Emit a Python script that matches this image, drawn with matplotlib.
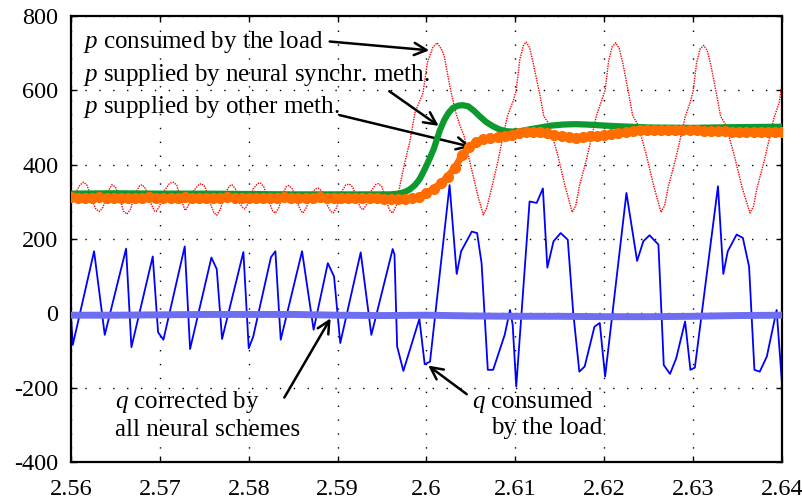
import numpy as np
import matplotlib.pyplot as plt

plt.rcParams['font.family'] = ['Liberation Serif', 'DejaVu Serif']
plt.rcParams['mathtext.fontset'] = 'custom'
plt.rcParams['mathtext.it'] = 'Liberation Serif:italic'
plt.rcParams['mathtext.rm'] = 'Liberation Serif'
plt.rcParams['axes.unicode_minus'] = False

# p consumed by the load (red dotted)
p_load_t = [2.5600, 2.5604, 2.5610, 2.5614, 2.5618, 2.5623, 2.5628, 2.5632, 2.5636, 2.5641,
            2.5646, 2.5650, 2.5655, 2.5659, 2.5663, 2.5667, 2.5672, 2.5677, 2.5680, 2.5684,
            2.5689, 2.5694, 2.5696, 2.5700, 2.5705, 2.5711, 2.5715, 2.5719, 2.5724, 2.5728,
            2.5729, 2.5733, 2.5738, 2.5744, 2.5747, 2.5751, 2.5756, 2.5761, 2.5764, 2.5768,
            2.5773, 2.5778, 2.5781, 2.5785, 2.5790, 2.5794, 2.5796, 2.5800, 2.5805, 2.5810,
            2.5813, 2.5817, 2.5822, 2.5827, 2.5830, 2.5834, 2.5839, 2.5842, 2.5845, 2.5849,
            2.5854, 2.5859, 2.5861, 2.5865, 2.5870, 2.5875, 2.5878, 2.5882, 2.5887, 2.5892,
            2.5895, 2.5899, 2.5904, 2.5909, 2.5913, 2.5917, 2.5922, 2.5926, 2.5929, 2.5933,
            2.5938, 2.5943, 2.5946, 2.5950, 2.5955, 2.5959, 2.5962, 2.5966, 2.5970, 2.5975,
            2.5981, 2.5987, 2.5993, 2.5996, 2.6001, 2.6007, 2.6012, 2.6017, 2.6020, 2.6027,
            2.6033, 2.6038, 2.6042, 2.6049, 2.6058, 2.6064, 2.6068, 2.6072, 2.6080, 2.6087,
            2.6091, 2.6098, 2.6101, 2.6105, 2.6109, 2.6112, 2.6116, 2.6120, 2.6128, 2.6132,
            2.6137, 2.6140, 2.6147, 2.6156, 2.6164, 2.6168, 2.6172, 2.6180, 2.6187, 2.6191,
            2.6197, 2.6201, 2.6205, 2.6209, 2.6213, 2.6217, 2.6221, 2.6228, 2.6232, 2.6237,
            2.6240, 2.6247, 2.6256, 2.6264, 2.6268, 2.6272, 2.6280, 2.6287, 2.6291, 2.6297,
            2.6300, 2.6304, 2.6308, 2.6312, 2.6316, 2.6320, 2.6327, 2.6331, 2.6336, 2.6339,
            2.6346, 2.6355, 2.6364, 2.6368, 2.6372, 2.6380, 2.6387, 2.6391, 2.6397, 2.6400]
p_load_v = [300, 320, 345, 353, 345, 310, 280, 274, 285, 325,
            346, 340, 310, 275, 267, 280, 320, 343, 346, 335,
            300, 275, 274, 290, 330, 350, 353, 345, 305, 280,
            277, 295, 330, 347, 349, 340, 300, 270, 264, 280,
            320, 342, 346, 335, 295, 282, 281, 300, 335, 349,
            351, 340, 305, 275, 270, 285, 325, 340, 344, 335,
            300, 275, 270, 285, 320, 335, 337, 330, 298, 275,
            270, 285, 325, 345, 348, 340, 305, 283, 279, 295,
            330, 347, 349, 340, 300, 275, 270, 290, 342, 400,
            459, 540, 575, 592, 674, 715, 728, 710, 692, 602,
            540, 503, 480, 405, 315, 265, 285, 324, 405, 486,
            530, 575, 600, 683, 720, 730, 715, 674, 584, 530,
            513, 490, 432, 342, 272, 290, 342, 414, 486, 530,
            572, 600, 680, 718, 728, 712, 672, 585, 532, 512,
            490, 430, 340, 272, 290, 340, 412, 484, 528, 570,
            598, 675, 712, 721, 706, 668, 582, 530, 510, 488,
            428, 340, 270, 288, 338, 410, 482, 526, 568, 616]

# p supplied by neural synchr. method (green)
p_neural_t = [2.560, 2.565, 2.570, 2.575, 2.580, 2.585, 2.590, 2.5959, 2.5968, 2.5975,
              2.5981, 2.5987, 2.5992, 2.5996, 2.6002, 2.6008, 2.6012, 2.6015, 2.6020, 2.6025,
              2.6030, 2.6036, 2.6041, 2.6047, 2.6053, 2.6060, 2.6067, 2.6075, 2.6082, 2.6090,
              2.6097, 2.6105, 2.6116, 2.6128, 2.6140, 2.6154, 2.6167, 2.6180, 2.6195, 2.6210,
              2.6230, 2.6250, 2.6300, 2.6350, 2.6400]
p_neural_v = [322, 323, 322, 322, 321, 320, 320, 320, 322, 326,
              333, 345, 360, 378, 408, 441, 470, 492, 520, 540,
              553, 559, 560, 557, 546, 530, 515, 503, 495, 490,
              489, 490, 495, 500, 505, 508, 509, 508, 506, 504,
              502, 500, 499, 501, 502]

# p supplied by other methods (orange, one sample per 0.8 ms)
p_other_t = np.round(np.linspace(2.560, 2.640, 101), 4)
p_other_v = [312, 310, 311, 309, 312, 310, 311, 310, 309, 311,
             310, 312, 310, 309, 311, 310, 312, 311, 310, 309,
             311, 310, 312, 310, 309, 311, 310, 309, 311, 310,
             312, 310, 309, 311, 310, 312, 310, 309, 311, 310,
             309, 311, 310, 309, 308, 307, 307, 308, 309, 314,
             324, 335, 350, 368, 392, 425, 448, 461, 468, 472,
             474, 476, 480, 484, 487, 489, 488, 485, 481, 477,
             474, 473, 474, 476, 478, 480, 483, 486, 488, 490,
             492, 493, 494, 494, 494, 493, 493, 492, 492, 491,
             491, 490, 490, 489, 489, 488, 488, 487, 487, 487,
             487]

# q consumed by the load (blue)
q_load_t = [2.5600, 2.5602, 2.5626, 2.5638, 2.5662, 2.5668, 2.5692, 2.5698, 2.5704, 2.5728,
            2.5734, 2.5758, 2.5764, 2.5770, 2.5794, 2.5800, 2.5805, 2.5825, 2.5830, 2.5836,
            2.5860, 2.5873, 2.5889, 2.5896, 2.5903, 2.5926, 2.5938, 2.5962, 2.5964, 2.5967,
            2.5974, 2.5992, 2.5998, 2.6004, 2.6026, 2.6034, 2.6039, 2.6051, 2.6057, 2.6062,
            2.6069, 2.6075, 2.6088, 2.6094, 2.6097, 2.6101, 2.6116, 2.6124, 2.6131, 2.6136,
            2.6143, 2.6151, 2.6159, 2.6165, 2.6172, 2.6178, 2.6184, 2.6189, 2.6195, 2.6201,
            2.6225, 2.6237, 2.6244, 2.6251, 2.6261, 2.6267, 2.6274, 2.6281, 2.6291, 2.6297,
            2.6302, 2.6328, 2.6334, 2.6339, 2.6349, 2.6356, 2.6363, 2.6369, 2.6375, 2.6383,
            2.6394, 2.6400]
q_load_v = [-5, -85, 167, -58, 174, -91, 153, -51, -71, 180,
            -96, 150, 119, -69, 165, -94, -63, 151, 167, -71,
            167, -44, 135, 99, -80, 164, -58, 173, 158, -89,
            -155, -15, -137, -130, 345, 106, 167, 220, 216, 135,
            -152, -152, -58, 9, -31, -197, 301, 297, 336, 123,
            194, 216, 198, 5, -157, -143, -85, -36, -26, -170,
            324, 141, 194, 210, 185, -139, -163, -121, -22, -152,
            -146, 342, 106, 167, 212, 203, 126, -152, -157, -116,
            9, -188]

# q corrected by all neural schemes (lavender)
q_corr_t = [2.560, 2.565, 2.570, 2.575, 2.580, 2.585, 2.590, 2.595, 2.600,
            2.605, 2.610, 2.615, 2.620, 2.625, 2.630, 2.635, 2.640]
q_corr_v = [-5, -5, -4, -3, -3, -3, -5, -6, -5, -7, -8, -8, -9, -9, -8, -6, -5]

x_ticks = [2.56, 2.57, 2.58, 2.59, 2.60, 2.61, 2.62, 2.63, 2.64]
x_labels = ['2.56', '2.57', '2.58', '2.59', '2.6', '2.61', '2.62', '2.63', '2.64']
y_ticks = [-400, -200, 0, 200, 400, 600, 800]
y_labels = ['-400', '-200', '0', '200', '400', '600', '800']

fig = plt.figure(figsize=(8.03, 5.0), dpi=100)
ax = fig.add_axes([0.0884, 0.076, 0.8854, 0.892])

ax.plot(q_load_t, q_load_v, color='#0000ff', lw=1.3, zorder=2)
ax.plot(q_corr_t, q_corr_v, color='#6e6ef2', lw=5, solid_capstyle='butt', zorder=3)
ax.plot(p_load_t, p_load_v, color='#ff0000', lw=1.0, linestyle=(0, (1, 0.8)), zorder=2)
ax.plot(p_neural_t, p_neural_v, color='#0c9a2e', lw=4.5, zorder=4)
ax.plot(p_other_t, p_other_v, color='#ff6c00', lw=5, marker='o', markersize=8,
        markeredgewidth=0, zorder=5)

ax.set_xlim(2.56, 2.64)
ax.set_ylim(-400, 800)
ax.set_xticks(x_ticks)
ax.set_xticklabels(x_labels)
ax.set_yticks(y_ticks)
ax.set_yticklabels(y_labels)
ax.tick_params(direction='in', length=4, width=1, top=True, right=True,
               labelsize=17.5, pad=9)
ax.tick_params(axis='x', pad=12)
ax.grid(True, color='black', linestyle=(0, (1, 9)), lw=1.0)
for s in ax.spines.values():
    s.set_linewidth(1.6)

tfs = 18
ap = dict(arrowstyle='->', lw=1.8, color='black', mutation_scale=22)
ax.text(2.56135, 729, '$p$ consumed by the load', fontsize=tfs, va='center', ha='left')
ax.text(2.56135, 640, '$p$ supplied by neural synchr. meth.', fontsize=tfs, va='center', ha='left')
ax.text(2.56135, 554, '$p$ supplied by other meth.', fontsize=tfs, va='center', ha='left')
ax.annotate('', xy=(2.60062, 707), xytext=(2.58880, 732), arrowprops=ap)
ax.annotate('', xy=(2.60163, 500), xytext=(2.59556, 602), arrowprops=ap)
ax.annotate('', xy=(2.60535, 446), xytext=(2.58993, 535), arrowprops=ap)

ax.text(2.56495, -238, '$q$ corrected by', fontsize=tfs, va='center', ha='left')
ax.text(2.56495, -314, 'all neural schemes', fontsize=tfs, va='center', ha='left')
ax.annotate('', xy=(2.58937, -7), xytext=(2.58385, -233), arrowprops=ap)

ax.text(2.60509, -238, '$q$ consumed', fontsize=tfs, va='center', ha='left')
ax.text(2.60722, -309, 'by the load', fontsize=tfs, va='center', ha='left')
ax.annotate('', xy=(2.59994, -136), xytext=(2.60478, -222), arrowprops=ap)

fig.savefig('out.png', dpi=100)
